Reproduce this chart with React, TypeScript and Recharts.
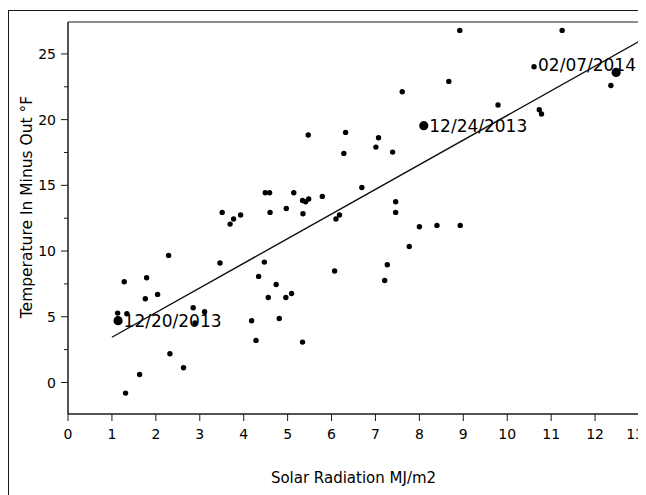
import React from "react";
import { ScatterChart, Scatter, XAxis, YAxis, ReferenceArea, Label } from "recharts";

// Solar radiation (MJ/m2) per day
const solarRadiation = [
  1.13, 1.14, 1.28, 1.31, 1.34, 1.63, 1.76, 1.79, 2.04, 2.29,
  2.32, 2.63, 2.85, 2.89, 3.11, 3.46, 3.51, 3.69, 3.77, 3.93,
  4.18, 4.28, 4.34, 4.47, 4.49, 4.56, 4.59, 4.6, 4.74, 4.81,
  4.96, 4.97, 5.09, 5.14, 5.34, 5.34, 5.35, 5.41, 5.47, 5.48,
  5.79, 6.07, 6.1, 6.18, 6.28, 6.32, 6.69, 7.01, 7.07, 7.21,
  7.27, 7.39, 7.46, 7.46, 7.61, 7.77, 8.0, 8.1, 8.4, 8.67,
  8.92, 8.93, 9.79, 10.61, 10.73, 10.78, 11.25, 12.36, 12.48,
];

// Temperature inside minus outside (°F)
const tempInMinusOut = [
  5.28, 4.7, 7.66, -0.81, 5.23, 0.61, 6.37, 7.97, 6.7, 9.67,
  2.18, 1.12, 5.68, 4.52, 5.38, 9.09, 12.94, 12.05, 12.44, 12.74,
  4.7, 3.2, 8.07, 9.16, 14.44, 6.47, 14.44, 12.94, 7.46, 4.87,
  6.47, 13.24, 6.77, 14.44, 13.85, 3.07, 12.84, 13.75, 18.83, 13.96,
  14.16, 8.48, 12.44, 12.74, 17.43, 19.03, 14.84, 17.91, 18.62, 7.76,
  8.96, 17.53, 13.75, 12.94, 22.12, 10.35, 11.85, 19.54, 11.95, 22.91,
  26.79, 11.95, 21.11, 24.03, 20.75, 20.43, 26.79, 22.6, 23.59,
];

const labeledIndices = [1, 57, 68];
const labeledDates = ["12/20/2013", "12/24/2013", "02/07/2014"];

// Fitted line endpoints
const fitX = [1.0, 13.0];
const fitY = [3.44, 25.95];

const xTicks = [0, 1, 2, 3, 4, 5, 6, 7, 8, 9, 10, 11, 12, 13];
const yTicks = [0, 2.5, 5, 7.5, 10, 12.5, 15, 17.5, 20, 22.5, 25];
const xDomain = [0, 13];
const yDomain = [-2.4, 27.43];

const xTitle = "Solar Radiation MJ/m2";
const yTitle = "Temperature In Minus Out °F";

const CHART_W = 637;
const CHART_H = 484;
const MARGIN = { top: 11, right: 7, bottom: 41, left: 0 };
const PLOT_RIGHT = CHART_W - MARGIN.right;
const FONT = "'DejaVu Sans', sans-serif";
const INK = "#1a1a1a";

const points = solarRadiation.map((x, i) => {
  const k = labeledIndices.indexOf(i);
  return { x, y: tempInMinusOut[i], label: k >= 0 ? labeledDates[k] : "" };
});
const fitData = fitX.map((x, i) => ({ x, y: fitY[i] }));

function PointShape(props: any) {
  const { cx, cy, payload } = props;
  if (cx == null || cy == null) return <g />;
  if (!payload.label) return <circle cx={cx} cy={cy} r={2.7} fill="#000" />;
  const fits = cx + 6 + payload.label.length * 10 < PLOT_RIGHT;
  return (
    <g>
      <circle cx={cx} cy={cy} r={4.6} fill="#000" />
      <text
        x={fits ? cx + 5.5 : PLOT_RIGHT - 3}
        y={fits ? cy : cy - 8}
        dy="0.36em"
        textAnchor={fits ? "start" : "end"}
        fontSize={17}
        fontFamily={FONT}
        fill="#000"
      >
        {payload.label}
      </text>
    </g>
  );
}

function YTick(props: any) {
  const { x, y, payload } = props;
  const axisX = x + 12;
  const major = payload.value % 5 === 0;
  return (
    <g>
      <line x1={axisX - (major ? 7 : 4)} x2={axisX} y1={y} y2={y} stroke={INK} strokeWidth={1} />
      {major && (
        <text x={x} y={y} dy="0.36em" textAnchor="end" fontSize={14} fontFamily={FONT} fill="#000">
          {payload.value}
        </text>
      )}
    </g>
  );
}

function XTick(props: any) {
  const { x, y, payload } = props;
  const label = String(payload.value);
  const width = label.length * 9.2;
  const fitsRight = x + width / 2 <= CHART_W - 2;
  return (
    <text
      x={fitsRight ? x : CHART_W - 2}
      y={y}
      dy="0.71em"
      textAnchor={fitsRight ? "middle" : "end"}
      fontSize={14}
      fontFamily={FONT}
      fill="#000"
    >
      {label}
    </text>
  );
}

export default function App() {
  return (
    <div style={{ paddingTop: 2 }}>
      <div
        style={{
          borderTop: `1px solid ${INK}`,
          borderLeft: `1px solid ${INK}`,
          width: CHART_W,
          height: CHART_H,
          overflow: "hidden",
        }}
      >
        <ScatterChart width={CHART_W} height={CHART_H} margin={MARGIN}>
          <ReferenceArea
            x1={xDomain[0]}
            x2={xDomain[1]}
            y1={yDomain[0]}
            y2={yDomain[1]}
            fill="none"
            fillOpacity={0}
            stroke={INK}
            strokeWidth={1}
          />
          <XAxis
            type="number"
            dataKey="x"
            domain={xDomain}
            ticks={xTicks}
            interval={0}
            allowDataOverflow
            height={40}
            tickSize={7}
            tickMargin={8}
            axisLine={{ stroke: INK }}
            tickLine={{ stroke: INK }}
            tick={<XTick />}
          >
            <Label
              value={xTitle}
              position="bottom"
              offset={18}
              style={{ fontSize: 15, fontFamily: FONT, fill: "#000" }}
            />
          </XAxis>
          <YAxis
            type="number"
            dataKey="y"
            domain={yDomain}
            ticks={yTicks}
            interval={0}
            allowDataOverflow
            width={59}
            tickSize={7}
            tickMargin={5}
            axisLine={{ stroke: INK }}
            tickLine={false}
            tick={<YTick />}
          >
            <Label
              content={() => (
                <text
                  x={17}
                  y={196}
                  transform="rotate(-90 17 196)"
                  textAnchor="middle"
                  dy="0.36em"
                  fontSize={15.5}
                  fontFamily={FONT}
                  fill="#000"
                >
                  {yTitle}
                </text>
              )}
            />
          </YAxis>
          <Scatter
            data={fitData}
            line={{ stroke: "#111", strokeWidth: 1.4 }}
            shape={() => <g />}
            isAnimationActive={false}
          />
          <Scatter data={points} shape={<PointShape />} isAnimationActive={false} />
        </ScatterChart>
      </div>
    </div>
  );
}
